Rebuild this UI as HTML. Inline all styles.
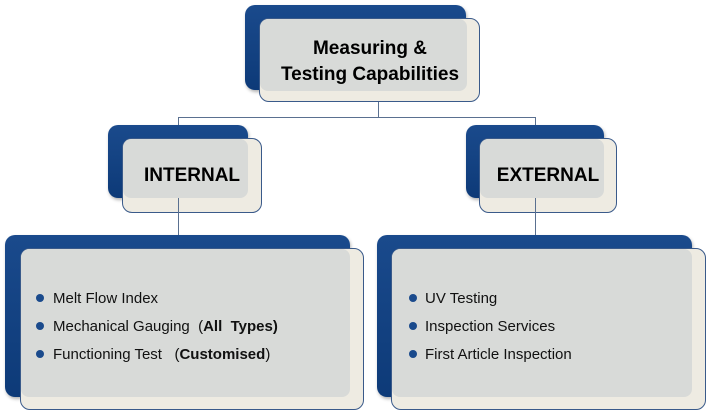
<!DOCTYPE html>
<html><head><style>
body{margin:0;width:711px;height:416px;background:#fff;position:relative;overflow:hidden;font-family:"Liberation Sans",sans-serif}
.a{position:absolute}
.b{background:linear-gradient(#1a4a8c,#0d3a78);border-radius:10px;box-shadow:1px 2px 3px rgba(0,0,0,.3)}
.c{background:#eeebe2;border:1px solid #3a5a8a;border-radius:10px;box-sizing:border-box}
.g{background:#d8dad8;border-radius:8px}
.l{background:#5a7090}
.t{color:#000;font-weight:bold;text-align:center}
.u{font-size:15px;color:#111}
.d{position:absolute;width:8px;height:8px;border-radius:50%;background:#1a4a8c}
</style></head><body>
<div class="a l" style="left:378px;top:102px;width:1px;height:15px"></div>
<div class="a l" style="left:178px;top:117px;width:358px;height:1px"></div>
<div class="a l" style="left:178px;top:117px;width:1px;height:120px"></div>
<div class="a l" style="left:535px;top:117px;width:1px;height:120px"></div>

<div class="a b" style="left:245px;top:5px;width:221px;height:85px"></div>
<div class="a c" style="left:259px;top:18px;width:221px;height:84px"></div>
<div class="a g" style="left:260px;top:19px;width:207px;height:72px"></div>
<div class="a t" style="left:259px;top:36px;width:222px;font-size:19px;line-height:26px">Measuring &amp;<br>Testing Capabilities</div>

<div class="a b" style="left:108px;top:125px;width:140px;height:73px"></div>
<div class="a c" style="left:122px;top:138px;width:140px;height:75px"></div>
<div class="a g" style="left:123px;top:139px;width:125px;height:59px"></div>
<div class="a l" style="left:178px;top:198px;width:1px;height:37px"></div>
<div class="a t" style="left:122px;top:165px;width:140px;font-size:19px">INTERNAL</div>

<div class="a b" style="left:466px;top:125px;width:138px;height:73px"></div>
<div class="a c" style="left:479px;top:138px;width:138px;height:75px"></div>
<div class="a g" style="left:480px;top:139px;width:124px;height:59px"></div>
<div class="a l" style="left:535px;top:198px;width:1px;height:37px"></div>
<div class="a t" style="left:479px;top:165px;width:138px;font-size:19px">EXTERNAL</div>

<div class="a b" style="left:5px;top:235px;width:345px;height:162px"></div>
<div class="a c" style="left:20px;top:248px;width:344px;height:162px"></div>
<div class="a g" style="left:21px;top:249px;width:329px;height:148px"></div>
<div class="d" style="left:36px;top:294px"></div><div class="a u" style="left:53px;top:290px">Melt Flow Index</div>
<div class="d" style="left:36px;top:322px"></div><div class="a u" style="left:53px;top:318px">Mechanical Gauging&nbsp; (<b>All&nbsp; Types)</b></div>
<div class="d" style="left:36px;top:350px"></div><div class="a u" style="left:53px;top:346px">Functioning Test&nbsp;&nbsp; (<b>Customised</b>)</div>

<div class="a b" style="left:377px;top:235px;width:315px;height:162px"></div>
<div class="a c" style="left:391px;top:248px;width:315px;height:162px"></div>
<div class="a g" style="left:392px;top:249px;width:300px;height:148px"></div>
<div class="d" style="left:409px;top:294px"></div><div class="a u" style="left:425px;top:290px">UV Testing</div>
<div class="d" style="left:409px;top:322px"></div><div class="a u" style="left:425px;top:318px">Inspection Services</div>
<div class="d" style="left:409px;top:350px"></div><div class="a u" style="left:425px;top:346px">First Article Inspection</div>
</body></html>
